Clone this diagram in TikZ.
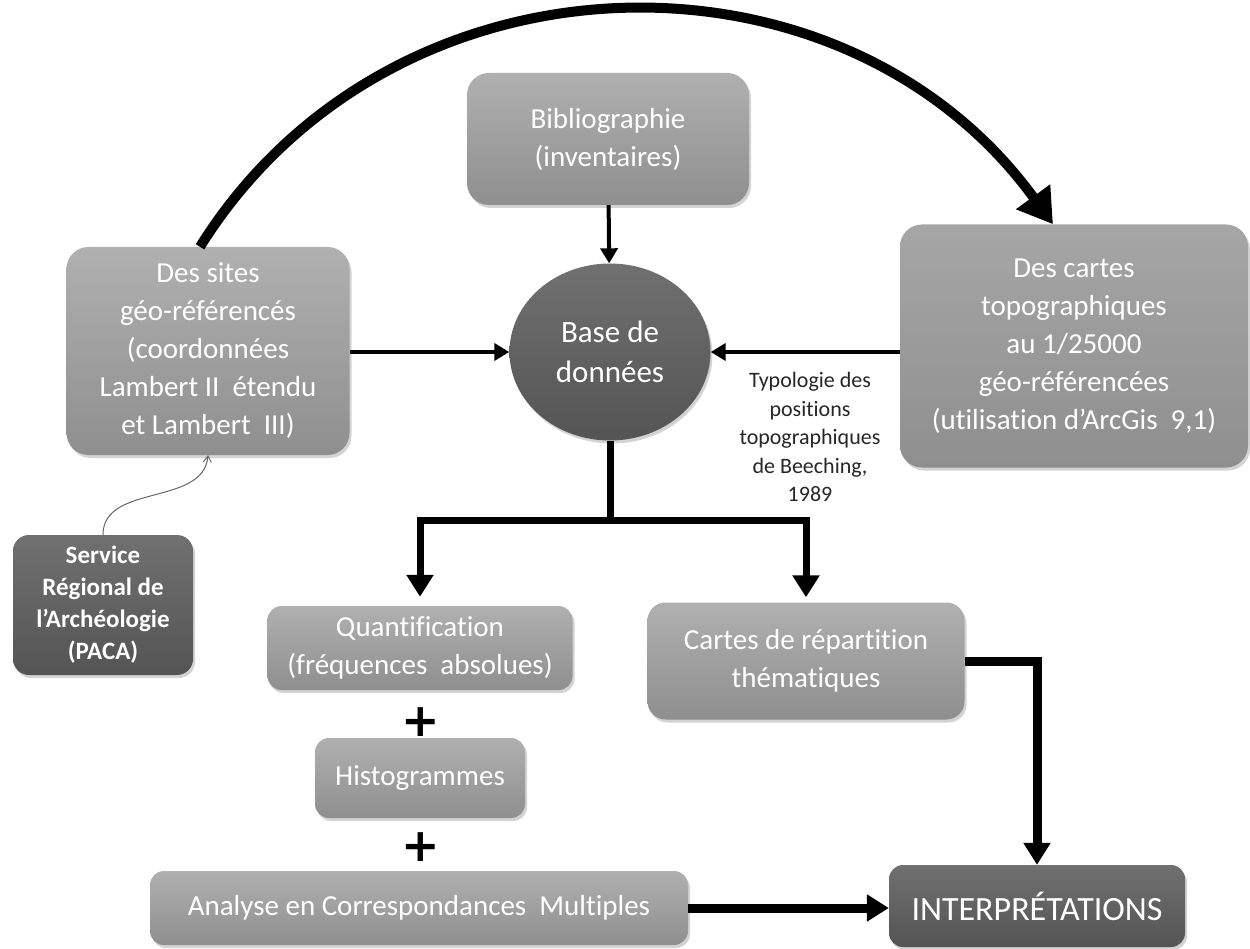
\documentclass[tikz,border=0pt]{standalone}
\usepackage{fontspec}
\setmainfont{Carlito}[Ligatures=NoCommon]
\newfontfamily\plusfont{DejaVu Sans}
\usetikzlibrary{arrows.meta,shapes.geometric,shadows,positioning}

\definecolor{boxtop}{gray}{0.69}
\definecolor{boxbot}{gray}{0.56}
\definecolor{darktop}{gray}{0.44}
\definecolor{darkbot}{gray}{0.33}

\tikzset{
  box/.style={rectangle, rounded corners=22pt, inner sep=0pt, align=center,
    top color=boxtop, bottom color=boxbot, text=white,
    font=\fontsize{29}{38}\selectfont,
    drop shadow={shadow xshift=2pt, shadow yshift=-3pt, opacity=.35}},
  darkbox/.style={box, top color=darktop, bottom color=darkbot},
  note/.style={align=center, text=black!85, font=\fontsize{22}{28.5}\selectfont},
  plus/.style={font=\plusfont\bfseries\fontsize{46}{46}\selectfont},
  link/.style={line width=4pt, -{Triangle[length=15pt,width=17pt]}},
  fat/.style={line width=7pt, line join=miter},
  fatlink/.style={fat, -{Triangle[length=22pt,width=26pt]}},
  hint/.style={gray!80!black, line width=1pt, -{Straight Barb[length=6pt,width=8pt]}}
}

\begin{document}
\begin{tikzpicture}[x=1pt, y=-1pt]
\useasboundingbox (0,0) rectangle (1250,949);

\node[box, minimum width=282pt, minimum height=132pt] (biblio) at (608,139) {Bibliographie\\(inventaires)};
\node[box, minimum width=283pt, minimum height=208pt] (sites) at (208,351) {Des sites\\géo-référencés\\(coordonnées\\Lambert II~ étendu\\et Lambert~ III)};
\node[box, minimum width=348pt, minimum height=243pt, top color=gray!70, bottom color=gray!88] (cartes) at (1074,346) {Des cartes\\topographiques\\au 1/25000\\géo-référencées\\(utilisation d’ArcGis~ 9,1)};
\node[darkbox, ellipse, minimum width=201pt, minimum height=177pt, font=\fontsize{31}{40}\selectfont] (base) at (610,352) {Base de\\données};
\node[darkbox, rounded corners=16pt, minimum width=180pt, minimum height=140pt, font=\bfseries\fontsize{25}{32}\selectfont] (service) at (103,605) {Service\\Régional de\\l’Archéologie\\(PACA)};
\node[note] (typo) at (810,437) {Typologie des\\positions\\topographiques\\de Beeching,\\1989};

\node[box, rounded corners=14pt, minimum width=305pt, minimum height=84pt] (quant) at (420,648) {Quantification\\(fréquences~ absolues)};
\node[plus] (plusa) at (421,722) {+};
\node[box, rounded corners=14pt, minimum width=210pt, minimum height=80pt] (histo) at (420,778) {Histogrammes};
\node[plus] (plusb) at (421,847) {+};
\node[box, rounded corners=14pt, minimum width=538pt, minimum height=74pt] (acm) at (419,908) {Analyse en Correspondances~ Multiples};
\node[box, rounded corners=18pt, minimum width=317pt, minimum height=117pt] (repart) at (806,661) {Cartes de répartition\\thématiques};
\node[darkbox, rounded corners=14pt, minimum width=296pt, minimum height=82pt, font=\fontsize{34}{38}\selectfont] (interp) at (1037,906) {INTERPRÉTATIONS};

\coordinate (split) at (610,520);

\draw[link] (biblio) -- (base);
\draw[link] (sites.east |- base.west) -- (base.west);
\draw[link] (base.east -| cartes.west) -- (base.east);
\draw[hint] (service.north) to[out=90, in=-95] (sites.south);
\draw[fat] (base.south) -- (split);
\draw[fatlink, shorten >=9pt] (split) -| (quant.north);
\draw[fatlink, shorten >=5pt] (split) -| (repart.north);
\draw[fatlink, line width=9pt] (acm.east) -- (acm.east -| interp.west);
\draw[fatlink, line width=9pt] (repart.east) -| (interp.north);
\draw[line width=10pt, -{Triangle[length=34pt,width=40pt]}]
  ([xshift=-8pt]sites.north) .. controls +(191,-306) and +(-212,-292) .. ([xshift=-21pt]cartes.north);
\end{tikzpicture}
\end{document}
